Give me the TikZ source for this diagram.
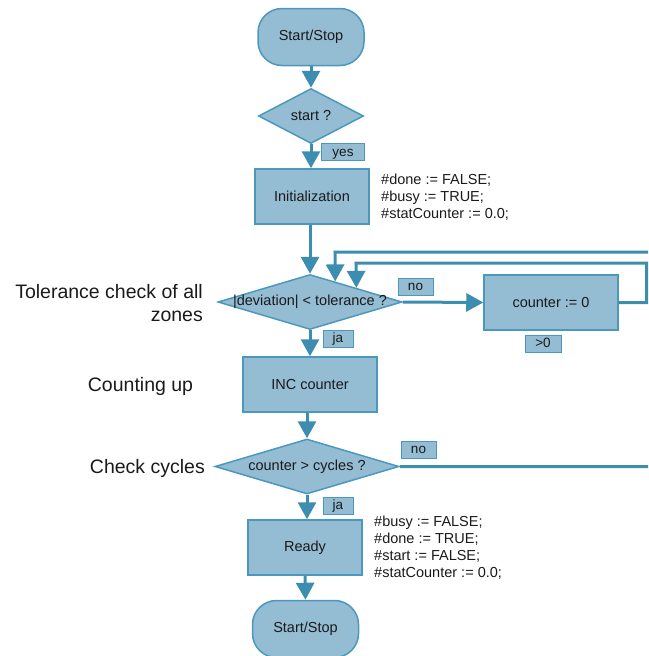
\documentclass[tikz,border=0pt]{standalone}
\usepackage{fontspec}
\setmainfont{Liberation Sans}
\usetikzlibrary{arrows.meta,shapes.geometric,calc}
\definecolor{boxfill}{HTML}{94BCD3}
\definecolor{boxline}{HTML}{4B98BE}
\definecolor{flow}{HTML}{3D8DB1}
\definecolor{ink}{HTML}{1A1A1A}

\begin{document}
\begin{tikzpicture}[x=1pt,y=-1pt,
  base/.style={fill=boxfill,draw=boxline,line width=1.5pt,text=ink,
    font=\fontsize{14.5}{17}\selectfont,inner sep=0pt},
  terminal/.style={base,rectangle,rounded corners=24pt,
    minimum width=106pt,minimum height=57pt},
  process/.style={base,rectangle,minimum width=#1,minimum height=55pt},
  decision/.style={base,diamond,minimum width=#1,minimum height=55pt},
  dtext/.style={label={[text=ink,font=\fontsize{14.5}{17}\selectfont]center:#1}},
  tag/.style={base,line width=1pt,minimum height=17pt,minimum width=#1,
    text height=8pt,text depth=0pt,font=\fontsize{13.5}{16}\selectfont},
  code/.style={text=ink,font=\fontsize{14.5}{17}\selectfont,align=left,
    anchor=west,inner sep=0pt},
  side/.style={text=ink,font=\fontsize{19.5}{23}\selectfont,inner sep=0pt},
  flowline/.style={draw=flow,line width=3pt},
  arrowline/.style={flowline,-{Triangle[width=18pt,length=17pt]}}]

\useasboundingbox (0,0) rectangle (648,656);
\clip (0,0) rectangle (648,656);

% main column
\node[terminal] (ss1) at (311,37) {Start/Stop};
\node[decision=105pt,dtext={start ?}] (st) at (311,116) {};
\node[process=114pt] (init) at (312,196.5) {Initialization};
\node[decision=184pt,dtext={|deviation| < tolerance ?}] (tol) at (310,302) {};
\node[process=134pt] (cnt) at (551,302.5) {counter := 0};
\node[process=134pt] (inc) at (310,384.5) {INC counter};
\node[decision=184pt,dtext={counter > cycles ?}] (cyc) at (307,466.5) {};
\node[process=114pt] (ready) at (305,547.5) {Ready};
\node[terminal] (ss2) at (305.5,629) {Start/Stop};

% branch tags
\node[tag=43pt] (yes1) at (343,152) {yes};
\node[tag=35pt] (no1) at (415.5,286.5) {no};
\node[tag=30pt] (ja1) at (338,338.5) {ja};
\node[tag=36pt] (gt0) at (543,343.5) {>0};
\node[tag=35pt] (no2) at (418.5,449.5) {no};
\node[tag=30pt] (ja2) at (338,505.5) {ja};

% assignments
\node[code] (code1) at (381,197) {\#done := FALSE;\\\#busy := TRUE;\\\#statCounter := 0.0;};
\node[code] (code2) at (374,547.5) {\#busy := FALSE;\\\#done := TRUE;\\\#start := FALSE;\\\#statCounter := 0.0;};

% step descriptions
\node[side,align=right,anchor=east] (lab1) at (203,303.5) {Tolerance check of all\\zones};
\node[side] (lab2) at (140.5,386) {Counting up};
\node[side,anchor=east] (lab3) at (205,468) {Check cycles};

% connectors
\draw[arrowline] (ss1.south) -- (st.north);
\draw[arrowline] (st.south) -- (st.south |- init.north);
\draw[arrowline] (tol.north |- init.south) -- (tol.north);
\draw[arrowline] (tol.east) -- (cnt.west);
\draw[arrowline] (tol.south) -- (inc.north);
\draw[arrowline] (cyc.north |- inc.south) -- (cyc.north);
\draw[arrowline] (cyc.south) -- (cyc.south |- ready.north);
\draw[arrowline] (ready.south) -- (ss2.north);
\draw[arrowline] (cnt.east) -- (646.5,302.5) |- (356,263) -- (tol.north east);
\draw[arrowline] (cyc.east) -- (672,466.5) |- (335,252)
  -- ($(tol.north)!0.272!(tol.east)$);
\end{tikzpicture}
\end{document}
